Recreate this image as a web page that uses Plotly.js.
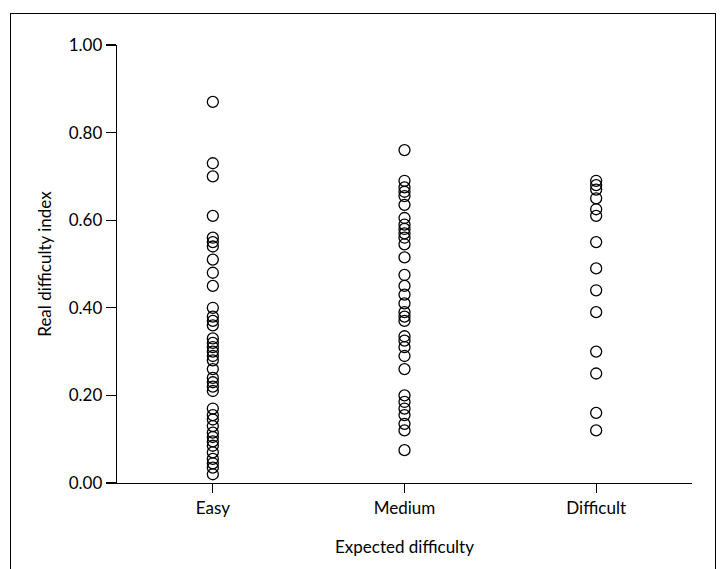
<!DOCTYPE html>
<html>
<head>
<meta charset="utf-8">
<script src="https://cdn.plot.ly/plotly-3.0.1.min.js"></script>
<style>
  html, body { margin: 0; padding: 0; background: #fff; }
  #wrap { position: relative; width: 720px; height: 569px; overflow: hidden; }
  #frame { position: absolute; left: 10px; top: 13px; width: 706px; height: 620px; border: 1.3px solid #000; box-sizing: border-box; }
  #chart { position: absolute; left: 0; top: 0; width: 720px; height: 569px; }
</style>
</head>
<body>
<div id="wrap">
  <div id="frame"></div>
  <div id="chart"></div>
</div>
<script>
const categories = ["Easy", "Medium", "Difficult"];

const easyValues = [0.87, 0.73, 0.70, 0.61, 0.56, 0.55, 0.54, 0.51, 0.48, 0.45, 0.40, 0.38, 0.37, 0.36,
  0.33, 0.32, 0.31, 0.30, 0.29, 0.28, 0.26, 0.24, 0.23, 0.22, 0.21, 0.17, 0.155, 0.145, 0.13, 0.115,
  0.105, 0.095, 0.085, 0.07, 0.055, 0.045, 0.035, 0.02];

const mediumValues = [0.76, 0.69, 0.675, 0.665, 0.655, 0.635, 0.605, 0.59, 0.58, 0.57, 0.56, 0.545,
  0.515, 0.475, 0.45, 0.43, 0.41, 0.39, 0.38, 0.37, 0.335, 0.325, 0.31, 0.29, 0.26, 0.20, 0.185, 0.17,
  0.155, 0.135, 0.12, 0.075];

const difficultValues = [0.69, 0.68, 0.67, 0.65, 0.625, 0.61, 0.55, 0.49, 0.44, 0.39, 0.30, 0.25, 0.16, 0.12];

const yTickVals = [0, 0.2, 0.4, 0.6, 0.8, 1.0];
const yTickText = ["0.00", "0.20", "0.40", "0.60", "0.80", "1.00"];

const groups = [easyValues, mediumValues, difficultValues];
const xs = [], ys = [];
groups.forEach((vals, i) => vals.forEach(v => { xs.push(categories[i]); ys.push(v); }));

const font = "Lato, 'Open Sans', sans-serif";

const trace = {
  type: "scatter",
  mode: "markers",
  x: xs,
  y: ys,
  marker: { symbol: "circle-open", size: 11, color: "#000", line: { width: 1.3, color: "#000" } },
  hoverinfo: "skip",
  cliponaxis: false
};

const layout = {
  width: 720,
  height: 569,
  paper_bgcolor: "rgba(0,0,0,0)",
  plot_bgcolor: "rgba(0,0,0,0)",
  margin: { l: 117, r: 28, t: 45, b: 86 },
  showlegend: false,
  font: { family: font, size: 17, color: "#000" },
  xaxis: {
    type: "category",
    categoryorder: "array",
    categoryarray: categories,
    range: [-0.5, 2.5],
    showline: true,
    linecolor: "#000",
    linewidth: 1.3,
    ticks: "outside",
    ticklen: 9,
    tickwidth: 1.3,
    tickcolor: "#000",
    showgrid: false,
    zeroline: false,
    tickfont: { family: font, size: 17, color: "#000" },
    title: { text: "Expected difficulty", font: { family: font, size: 17, color: "#000" }, standoff: 24 },
    automargin: false
  },
  yaxis: {
    range: [0, 1],
    tickvals: yTickVals,
    ticktext: yTickText,
    showline: true,
    linecolor: "#000",
    linewidth: 1.3,
    ticks: "outside",
    ticklen: 10,
    tickwidth: 1.3,
    tickcolor: "#000",
    showgrid: false,
    zeroline: false,
    tickfont: { family: font, size: 17, color: "#000" },
    title: { text: "Real difficulty index", font: { family: font, size: 17, color: "#000" }, standoff: 12 },
    automargin: false
  }
};

Plotly.newPlot("chart", [trace], layout, { displayModeBar: false, staticPlot: true });
</script>
</body>
</html>
